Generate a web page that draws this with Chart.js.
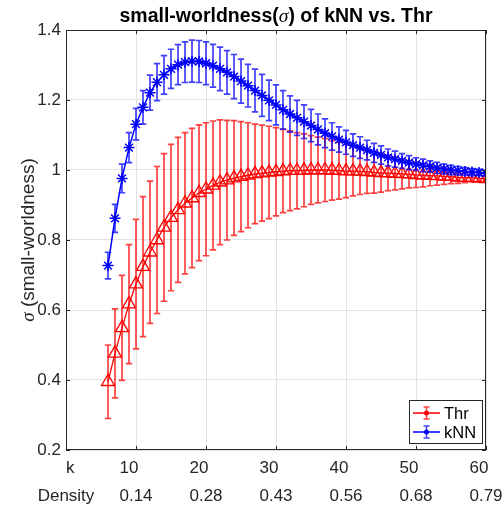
<!DOCTYPE html>
<html>
<head>
<meta charset="utf-8">
<script src="https://cdn.jsdelivr.net/npm/chart.js@4.4.0/dist/chart.umd.min.js"></script>
<style>
  html, body { margin: 0; padding: 0; background: #fff; }
  canvas { display: block; }
</style>
</head>
<body>
<canvas id="chart" width="502" height="506"></canvas>
<script>
// neighbours k
const kValues = [6, 7, 8, 9, 10, 11, 12, 13, 14, 15, 16, 17, 18, 19, 20, 21, 22, 23, 24, 25,
  26, 27, 28, 29, 30, 31, 32, 33, 34, 35, 36, 37, 38, 39, 40, 41, 42, 43, 44, 45,
  46, 47, 48, 49, 50, 51, 52, 53, 54, 55, 56, 57, 58, 59, 60];

// Thr: mean sigma and std
const thrMean = [0.395, 0.476, 0.549, 0.617, 0.674, 0.724, 0.765, 0.800, 0.836, 0.864,
  0.886, 0.905, 0.920, 0.935, 0.945, 0.956, 0.965, 0.971, 0.977, 0.981,
  0.985, 0.989, 0.991, 0.993, 0.995, 0.997, 0.998, 0.998, 0.999, 1.000,
  1.000, 1.000, 0.999, 0.998, 0.997, 0.997, 0.996, 0.995, 0.993, 0.992,
  0.991, 0.990, 0.989, 0.988, 0.986, 0.985, 0.984, 0.983, 0.982, 0.981,
  0.979, 0.978, 0.978, 0.976, 0.975];
const thrErr = [0.105, 0.127, 0.150, 0.170, 0.185, 0.200, 0.203, 0.210, 0.211, 0.209,
  0.207, 0.202, 0.199, 0.194, 0.190, 0.184, 0.178, 0.171, 0.164, 0.157,
  0.150, 0.142, 0.137, 0.132, 0.126, 0.119, 0.114, 0.109, 0.104, 0.098,
  0.094, 0.090, 0.085, 0.081, 0.076, 0.071, 0.066, 0.062, 0.059, 0.055,
  0.050, 0.047, 0.043, 0.039, 0.036, 0.033, 0.029, 0.026, 0.023, 0.020,
  0.017, 0.014, 0.012, 0.009, 0.006];

// kNN: mean sigma and std
const knnMean = [0.727, 0.862, 0.976, 1.064, 1.131, 1.179, 1.221, 1.251, 1.272, 1.289,
  1.301, 1.308, 1.311, 1.310, 1.305, 1.298, 1.289, 1.279, 1.267, 1.254,
  1.241, 1.227, 1.213, 1.199, 1.186, 1.172, 1.160, 1.149, 1.138, 1.127,
  1.116, 1.105, 1.096, 1.087, 1.079, 1.071, 1.064, 1.057, 1.049, 1.043,
  1.036, 1.031, 1.026, 1.021, 1.017, 1.013, 1.010, 1.006, 1.003, 1.000,
  0.998, 0.996, 0.994, 0.993, 0.991];
const knnErr = [0.038, 0.040, 0.041, 0.043, 0.045, 0.048, 0.050, 0.053, 0.055, 0.056,
  0.057, 0.058, 0.060, 0.060, 0.061, 0.061, 0.062, 0.062, 0.063, 0.063,
  0.061, 0.061, 0.060, 0.058, 0.057, 0.055, 0.052, 0.050, 0.048, 0.046,
  0.044, 0.041, 0.039, 0.036, 0.034, 0.032, 0.031, 0.028, 0.027, 0.026,
  0.024, 0.023, 0.021, 0.020, 0.018, 0.018, 0.016, 0.016, 0.014, 0.013,
  0.012, 0.011, 0.010, 0.009, 0.008];

// axis ticks
const xTickValues = [0, 10, 20, 30, 40, 50, 60];
const kTickLabels = ['      k', '10', '20', '30', '40', '50', '60'];
const densityTickLabels = ['Density', '0.14', '0.28', '0.43', '0.56', '0.68', '0.79'];
const yTickValues = [0.2, 0.4, 0.6, 0.8, 1.0, 1.2, 1.4];
const yTickLabels = ['0.2', '0.4', '0.6', '0.8', '1', '1.2', '1.4'];

const FONT = "'Liberation Sans', Arial, Helvetica, sans-serif";
const SERIF = "'Liberation Serif', 'Times New Roman', serif";
const AXIS_COLOR = '#262626';

function drawErrorBars(chart, means, errs, color) {
  const ctx = chart.ctx;
  const xs = chart.scales.x;
  const ys = chart.scales.y;
  const a = chart.chartArea;
  ctx.save();
  ctx.beginPath();
  ctx.rect(a.left, a.top, a.right - a.left, a.bottom - a.top);
  ctx.clip();
  ctx.strokeStyle = color;
  ctx.lineWidth = 1.7;
  kValues.forEach((k, i) => {
    const x = xs.getPixelForValue(k);
    const yTop = ys.getPixelForValue(means[i] + errs[i]);
    const yBot = ys.getPixelForValue(means[i] - errs[i]);
    ctx.beginPath();
    ctx.moveTo(x, yTop); ctx.lineTo(x, yBot);
    ctx.moveTo(x - 3.2, yTop); ctx.lineTo(x + 3.2, yTop);
    ctx.moveTo(x - 3.2, yBot); ctx.lineTo(x + 3.2, yBot);
    ctx.stroke();
  });
  ctx.restore();
}

// draws text made of parts with different fonts, starting at x
function drawParts(ctx, parts, x, y) {
  parts.forEach(p => {
    ctx.font = p.font;
    ctx.fillText(p.text, x, y);
    x += ctx.measureText(p.text).width;
  });
}
function partsWidth(ctx, parts) {
  let w = 0;
  parts.forEach(p => { ctx.font = p.font; w += ctx.measureText(p.text).width; });
  return w;
}

const overlay = {
  id: 'overlay',
  beforeDatasetDraw(chart, args) {
    const ds = chart.data.datasets[args.index];
    drawErrorBars(chart, ds.means, ds.errors, ds.barColor);
  },
  afterDraw(chart) {
    const ctx = chart.ctx;
    const a = chart.chartArea;
    const xs = chart.scales.x;
    const ys = chart.scales.y;
    ctx.save();

    // box + inward ticks
    ctx.strokeStyle = AXIS_COLOR;
    ctx.lineWidth = 1;
    ctx.strokeRect(a.left + 0.5, a.top + 0.5, a.right - a.left - 1, a.bottom - a.top - 1);
    ctx.beginPath();
    xTickValues.forEach(v => {
      const x = Math.round(xs.getPixelForValue(v)) + 0.5;
      ctx.moveTo(x, a.bottom); ctx.lineTo(x, a.bottom - 4);
      ctx.moveTo(x, a.top); ctx.lineTo(x, a.top + 4);
    });
    yTickValues.forEach(v => {
      const y = Math.round(ys.getPixelForValue(v)) + 0.5;
      ctx.moveTo(a.left, y); ctx.lineTo(a.left + 4, y);
      ctx.moveTo(a.right, y); ctx.lineTo(a.right - 4, y);
    });
    ctx.stroke();

    // x tick labels, two lines, left aligned in a centred block
    ctx.fillStyle = AXIS_COLOR;
    ctx.font = `17px ${FONT}`;
    ctx.textAlign = 'left';
    ctx.textBaseline = 'alphabetic';
    xTickValues.forEach((v, i) => {
      const x = xs.getPixelForValue(v);
      const w = Math.max(ctx.measureText(kTickLabels[i]).width, ctx.measureText(densityTickLabels[i]).width);
      ctx.fillText(kTickLabels[i], x - w / 2, a.bottom + 23);
      ctx.fillText(densityTickLabels[i], x - w / 2, a.bottom + 51);
    });

    // title
    ctx.fillStyle = '#000';
    const titleParts = [
      { text: 'small-worldness(', font: `bold 19.5px ${FONT}` },
      { text: 'σ', font: `italic 19.5px ${SERIF}` },
      { text: ') of kNN vs. Thr', font: `bold 19.5px ${FONT}` }
    ];
    const tw = partsWidth(ctx, titleParts);
    drawParts(ctx, titleParts, (a.left + a.right) / 2 - tw / 2, 22);

    // y axis title
    ctx.fillStyle = AXIS_COLOR;
    const yParts = [
      { text: 'σ', font: `italic 19px ${SERIF}` },
      { text: ' (small-worldness)', font: `19px ${FONT}` }
    ];
    const yw = partsWidth(ctx, yParts);
    ctx.save();
    ctx.translate(34, (a.top + a.bottom) / 2);
    ctx.rotate(-Math.PI / 2);
    drawParts(ctx, yParts, -yw / 2, 0);
    ctx.restore();

    // legend
    const lx = 409, ly = 400, lw = 73, lh = 43;
    ctx.fillStyle = '#fff';
    ctx.fillRect(lx, ly, lw, lh);
    ctx.strokeStyle = AXIS_COLOR;
    ctx.lineWidth = 1;
    ctx.strokeRect(lx + 0.5, ly + 0.5, lw, lh);
    chart.data.datasets.forEach((ds, i) => {
      const cy = ly + 13 + i * 19;
      const x0 = lx + 4, x1 = lx + 31, xm = (x0 + x1) / 2;
      ctx.strokeStyle = ds.barColor;
      ctx.lineWidth = 1.5;
      ctx.beginPath();
      ctx.moveTo(xm, cy - 6); ctx.lineTo(xm, cy + 6);
      ctx.moveTo(xm - 3, cy - 6); ctx.lineTo(xm + 3, cy - 6);
      ctx.moveTo(xm - 3, cy + 6); ctx.lineTo(xm + 3, cy + 6);
      ctx.stroke();
      ctx.strokeStyle = ds.borderColor;
      ctx.beginPath();
      ctx.moveTo(x0, cy); ctx.lineTo(x1, cy);
      ctx.stroke();
      ctx.fillStyle = ds.borderColor;
      ctx.beginPath();
      ctx.arc(xm, cy, 2.5, 0, Math.PI * 2);
      ctx.fill();
      ctx.fillStyle = '#000';
      ctx.font = `16.5px ${FONT}`;
      ctx.textBaseline = 'middle';
      ctx.fillText(ds.label, x1 + 4, cy + 1);
    });
    ctx.restore();
  }
};

new Chart(document.getElementById('chart'), {
  type: 'line',
  data: {
    datasets: [
      {
        label: 'Thr',
        data: kValues.map((k, i) => ({ x: k, y: thrMean[i] })),
        means: thrMean,
        errors: thrErr,
        barColor: 'rgba(255, 0, 0, 0.75)',
        borderColor: '#ff0000',
        borderWidth: 1.3,
        pointStyle: 'triangle',
        pointRadius: 7.5,
        pointBorderWidth: 1.3,
        pointBorderColor: '#ff0000',
        pointBackgroundColor: 'rgba(0,0,0,0)',
        tension: 0,
        order: 1
      },
      {
        label: 'kNN',
        data: kValues.map((k, i) => ({ x: k, y: knnMean[i] })),
        means: knnMean,
        errors: knnErr,
        barColor: 'rgba(0, 0, 255, 0.75)',
        borderColor: '#0000ff',
        borderWidth: 1.5,
        pointStyle: 'star',
        pointRadius: 5.5,
        pointBorderWidth: 1.5,
        pointBorderColor: '#0000ff',
        pointBackgroundColor: '#0000ff',
        tension: 0,
        order: 0
      }
    ]
  },
  options: {
    responsive: false,
    animation: false,
    events: [],
    layout: { padding: { top: 30, right: 16, left: 0, bottom: 0 } },
    plugins: {
      legend: { display: false },
      title: { display: false },
      tooltip: { enabled: false }
    },
    scales: {
      x: {
        type: 'linear',
        min: 0,
        max: 60,
        afterBuildTicks: s => { s.ticks = xTickValues.map(v => ({ value: v })); },
        afterFit: s => { s.height = 56; },
        ticks: { display: false },
        grid: { color: '#e3e3e3', lineWidth: 1, drawTicks: false },
        border: { display: false }
      },
      y: {
        min: 0.2,
        max: 1.4,
        afterBuildTicks: s => { s.ticks = yTickValues.map(v => ({ value: v })); },
        afterFit: s => { s.width = 66; },
        ticks: {
          padding: 5,
          color: AXIS_COLOR,
          font: { family: FONT, size: 17 },
          callback: (v, i) => yTickLabels[i]
        },
        grid: { color: '#e3e3e3', lineWidth: 1, drawTicks: false },
        border: { display: false }
      }
    }
  },
  plugins: [overlay]
});
</script>
</body>
</html>
